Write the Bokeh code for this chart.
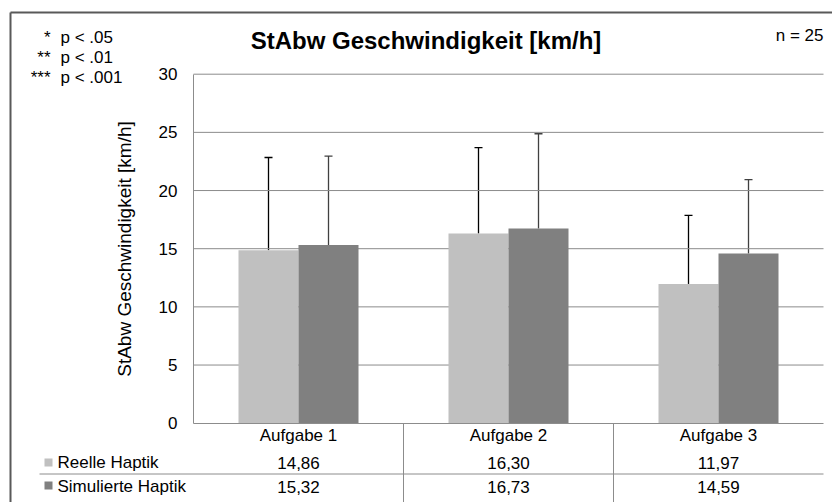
from bokeh.plotting import figure
from bokeh.models import (Range1d, FixedTicker, Whisker, TeeHead, ColumnDataSource,
                          Label, LinearAxis)
from bokeh.embed import file_html
from bokeh.resources import INLINE

# ---------------- data ----------------
categories = ["Aufgabe 1", "Aufgabe 2", "Aufgabe 3"]
series_names = ["Reelle Haptik", "Simulierte Haptik"]
reelle = [14.86, 16.30, 11.97]
simulierte = [15.32, 16.73, 14.59]
sd_reelle = [7.98, 7.38, 5.89]
sd_simulierte = [7.64, 8.15, 6.34]
y_ticks = [0, 5, 10, 15, 20, 25, 30]
title_text = "StAbw Geschwindigkeit [km/h]"
y_label = "StAbw Geschwindigkeit [km/h]"
sig_stars = ["*", "**", "***"]
sig_levels = ["p < .05", "p < .01", "p < .001"]
n_text = "n = 25"

# ---------------- style / layout ----------------
FONT = "Liberation Sans"
C_LIGHT = "#c0c0c0"
C_DARK = "#808080"
C_GRID = "#8c8c8c"
C_FRAME = "#595959"
C_ERR = ["#000000", "#404040"]
W, H = 832, 502
PL, PR, PT, PB = 193, 823, 73.7, 422.7   # plot area in canvas pixels
Y_MAX = 30
N = len(categories)
XS = N / (PR - PL)
YS = Y_MAX / (PB - PT)
BASE_FIX = 0.31   # baseline correction (fraction of font size)


def dx(cx):
    return (cx - PL) * XS


def dy(cy):
    return (PB - cy) * YS


fmt = lambda v: f"{v:.2f}".replace(".", ",")

p = figure(width=W, height=H, output_backend="svg", toolbar_location=None,
           x_range=Range1d(dx(0), dx(W)), y_range=Range1d(dy(H), dy(0)),
           x_axis_location=None, y_axis_location=None,
           min_border=0)
p.outline_line_color = None
p.background_fill_color = "white"
p.border_fill_color = "white"
p.xgrid.visible = False
p.ygrid.visible = False

centers = [i + 0.5 for i in range(N)]
bw = 60 / 210

# horizontal grid lines
grid_y = [t for t in y_ticks if t > 0]
p.segment(x0=[0] * len(grid_y), x1=[N] * len(grid_y), y0=grid_y, y1=grid_y,
          line_color=C_GRID, line_width=1)

# bars
p.vbar(x=[c - bw / 2 for c in centers], top=reelle, width=bw, bottom=0,
       fill_color=C_LIGHT, line_color=None)
p.vbar(x=[c + bw / 2 for c in centers], top=simulierte, width=bw, bottom=0,
       fill_color=C_DARK, line_color=None)

# error bars (plus direction)
for k, (vals, sds, off) in enumerate([(reelle, sd_reelle, -bw / 2),
                                      (simulierte, sd_simulierte, bw / 2)]):
    src = ColumnDataSource(dict(base=[c + off for c in centers],
                                lower=vals,
                                upper=[v + s for v, s in zip(vals, sds)]))
    w = Whisker(source=src, base="base", lower="lower", upper="upper",
                dimension="height", lower_head=None,
                upper_head=TeeHead(size=8, line_color=C_ERR[k], line_width=1.3),
                line_color=C_ERR[k], line_width=1.3)
    p.add_layout(w)

# axes at fixed locations
yax = LinearAxis(fixed_location=0, bounds=(0, Y_MAX), ticker=FixedTicker(ticks=y_ticks))
yax.major_tick_in = 0
yax.major_tick_out = 0
yax.minor_tick_line_color = None
yax.axis_line_color = C_GRID
yax.major_label_text_font = FONT
yax.major_label_text_font_size = "17px"
yax.major_label_text_color = "black"
yax.major_label_standoff = 16
yax.axis_label = y_label
yax.axis_label_text_font = FONT
yax.axis_label_text_font_style = "normal"
yax.axis_label_text_font_size = "19px"
yax.axis_label_text_color = "black"
yax.axis_label_standoff = 21
p.add_layout(yax, "left")

xax = LinearAxis(fixed_location=0, bounds=(0, N), ticker=FixedTicker(ticks=centers))
xax.major_label_overrides = {c: name for c, name in zip(centers, categories)}
xax.major_tick_in = 0
xax.major_tick_out = 0
xax.minor_tick_line_color = None
xax.axis_line_color = C_GRID
xax.major_label_text_font = FONT
xax.major_label_text_font_size = "17px"
xax.major_label_text_color = "black"
xax.major_label_standoff = 3
p.add_layout(xax, "below")


def lab(x, cy, text, align="left", size=17, style="normal"):
    p.add_layout(Label(x=x, y=dy(cy - BASE_FIX * size), text=text, text_align=align,
                       text_baseline="alphabetic",
                       text_font=FONT, text_font_size=f"{size}px", text_font_style=style,
                       text_color="black"))


# title, n, significance notes
lab(dx(425.5), 47.3, title_text, align="center", size=24, style="bold")
lab(dx(823), 40.7, n_text, align="right")
for i, (s, t) in enumerate(zip(sig_stars, sig_levels)):
    lab(dx(50), 42.7 + 20 * i, s, align="right")
    lab(dx(60), 42.7 + 20 * i, t, align="left")

# data table
row_base = [467.7, 491.7]
swatch_top = [458, 481]
for r, (name, vals, col) in enumerate(zip(series_names, [reelle, simulierte], [C_LIGHT, C_DARK])):
    lab(dx(57), row_base[r], name, align="left")
    p.quad(left=dx(44), right=dx(52), top=dy(swatch_top[r]), bottom=dy(swatch_top[r] + 8),
           fill_color=col, line_color=None)
    for c, v in zip(centers, vals):
        lab(c, row_base[r], fmt(v), align="center")

p.segment(x0=[dx(39)], x1=[N], y0=[dy(473.5)], y1=[dy(473.5)], line_color=C_GRID, line_width=1)
bounds_x = list(range(1, N))
p.segment(x0=bounds_x, x1=bounds_x, y0=[0] * len(bounds_x), y1=[dy(H + 10)] * len(bounds_x),
          line_color=C_GRID, line_width=1)

# outer chart frame
p.segment(x0=[dx(10), dx(10)], x1=[dx(W + 20), dx(10)], y0=[dy(12), dy(12)],
          y1=[dy(12), dy(H + 20)], line_color=C_FRAME, line_width=2)

open("out.html", "w").write(file_html(p, INLINE))
